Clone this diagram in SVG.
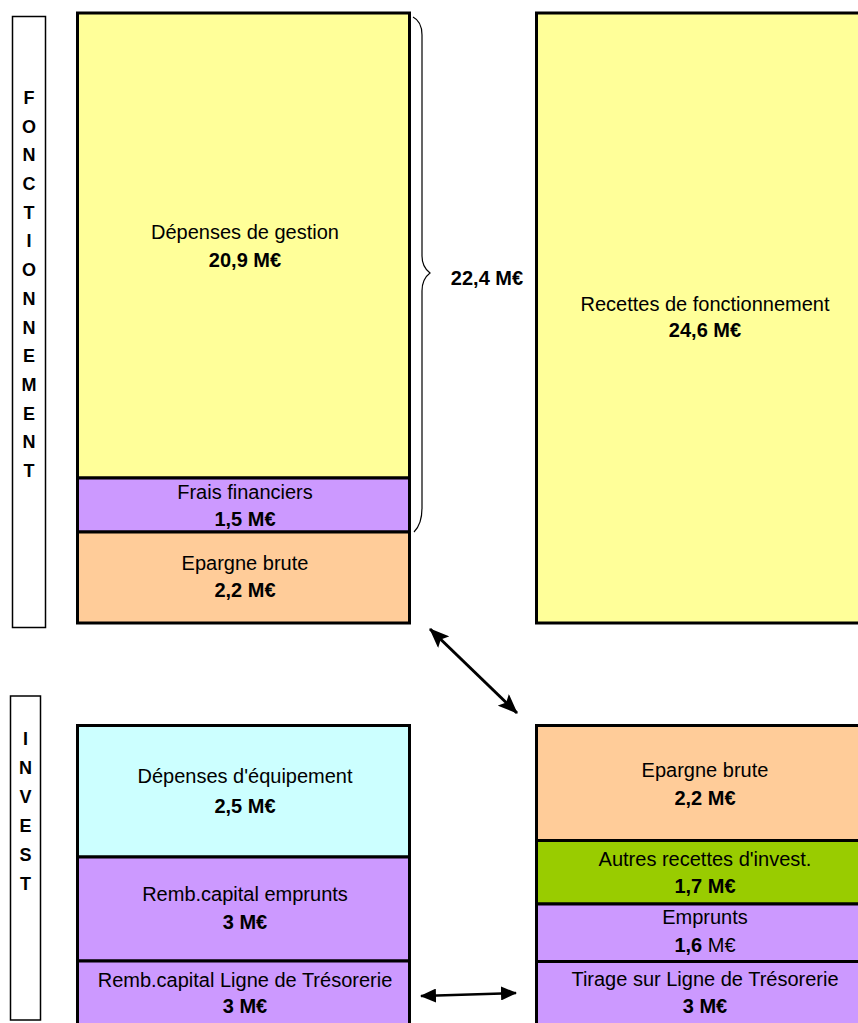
<svg xmlns="http://www.w3.org/2000/svg" width="858" height="1023" viewBox="0 0 858 1023">
<defs>
<style>
text{font-family:"Liberation Sans",Arial,sans-serif;fill:#000}
.t{font-size:20px;text-anchor:middle}
.b{font-size:20px;font-weight:bold;text-anchor:middle}
.v{font-size:18px;font-weight:bold;text-anchor:middle}
.blk{stroke:#000;stroke-width:3}
.lbl{fill:#fff;stroke:#000;stroke-width:1.5}
.yel{fill:#FFFF99}.pur{fill:#CC99FF}.ora{fill:#FFCC99}.cya{fill:#CCFFFF}.grn{fill:#99CC00}
.con{stroke:#000;fill:none}
</style>
<marker id="ah" viewBox="0 0 16 14" refX="15" refY="7" markerWidth="16" markerHeight="14" markerUnits="userSpaceOnUse" orient="auto-start-reverse">
<path d="M0,0 L16,7 L0,14 Z" fill="#000"/>
</marker>
<marker id="ahl" viewBox="0 0 20 16" refX="19" refY="8" markerWidth="20" markerHeight="16" markerUnits="userSpaceOnUse" orient="auto-start-reverse">
<path d="M0,0 L20,8 L0,16 L4,8 Z" fill="#000"/>
</marker>
</defs>
<rect width="858" height="1023" fill="#fff"/>

<g id="label-fonctionnement">
<rect class="lbl" x="12.5" y="16.5" width="33" height="611"/>
<text class="v" x="29" y="104">F</text>
<text class="v" x="29" y="133">O</text>
<text class="v" x="29" y="161">N</text>
<text class="v" x="29" y="190">C</text>
<text class="v" x="29" y="219">T</text>
<text class="v" x="29" y="247">I</text>
<text class="v" x="29" y="276">O</text>
<text class="v" x="29" y="305">N</text>
<text class="v" x="29" y="334">N</text>
<text class="v" x="29" y="362">E</text>
<text class="v" x="29" y="391">M</text>
<text class="v" x="29" y="420">E</text>
<text class="v" x="29" y="448">N</text>
<text class="v" x="29" y="477">T</text>
</g>

<g id="label-invest">
<rect class="lbl" x="10.5" y="696" width="30" height="324"/>
<text class="v" x="25.5" y="745">I</text>
<text class="v" x="25.5" y="774">N</text>
<text class="v" x="25.5" y="803">V</text>
<text class="v" x="25.5" y="832">E</text>
<text class="v" x="25.5" y="861">S</text>
<text class="v" x="25.5" y="890">T</text>
</g>

<g id="depenses-gestion">
<rect class="yel blk" x="77.5" y="13" width="332" height="465"/>
<text class="t" x="245" y="239">Dépenses de gestion</text>
<text class="b" x="245" y="267">20,9 M€</text>
</g>
<g id="frais-financiers">
<rect class="pur blk" x="77.5" y="478" width="332" height="54"/>
<text class="t" x="245" y="499">Frais financiers</text>
<text class="b" x="245" y="526">1,5 M€</text>
</g>
<g id="epargne-brute-f">
<rect class="ora blk" x="77.5" y="532" width="332" height="91"/>
<text class="t" x="245" y="570">Epargne brute</text>
<text class="b" x="245" y="597">2,2 M€</text>
</g>

<g id="recettes-fonctionnement">
<rect class="yel blk" x="536.5" y="13" width="340" height="610"/>
<text class="t" x="705" y="311">Recettes de fonctionnement</text>
<text class="b" x="705" y="337">24,6 M€</text>
</g>

<g id="total-brace">
<path class="con" stroke-width="1.2" d="M413,17 C419,20 422,25 422,35 L422,256 C422,266 426,270 430,273 C426,276 422,281 422,291 L422,508 C422,520 419,527 414,532"/>
<text class="b" x="487" y="285">22,4 M€</text>
</g>

<g id="depenses-equipement">
<rect class="cya blk" x="77.5" y="725.5" width="332" height="131.5"/>
<text class="t" x="245" y="783">Dépenses d'équipement</text>
<text class="b" x="245" y="813">2,5 M€</text>
</g>
<g id="remb-emprunts">
<rect class="pur blk" x="77.5" y="857" width="332" height="104"/>
<text class="t" x="245" y="901">Remb.capital emprunts</text>
<text class="b" x="245" y="929">3 M€</text>
</g>
<g id="remb-ligne">
<rect class="pur blk" x="77.5" y="961" width="332" height="70"/>
<text class="t" x="245" y="987">Remb.capital Ligne de Trésorerie</text>
<text class="b" x="245" y="1013">3 M€</text>
</g>

<g id="epargne-brute-i">
<rect class="ora blk" x="536.5" y="725.5" width="340" height="115"/>
<text class="t" x="705" y="777">Epargne brute</text>
<text class="b" x="705" y="805">2,2 M€</text>
</g>
<g id="autres-recettes">
<rect class="grn blk" x="536.5" y="840.5" width="340" height="63.5"/>
<text class="t" x="705" y="866">Autres recettes d'invest.</text>
<text class="b" x="705" y="893">1,7 M€</text>
</g>
<g id="emprunts">
<rect class="pur blk" x="536.5" y="904" width="340" height="57.5"/>
<text class="t" x="705" y="924">Emprunts</text>
<text class="t" x="705" y="952"><tspan font-weight="bold">1,6</tspan> M€</text>
</g>
<g id="tirage-ligne">
<rect class="pur blk" x="536.5" y="961.5" width="340" height="70"/>
<text class="t" x="705" y="986">Tirage sur Ligne de Trésorerie</text>
<text class="b" x="705" y="1013">3 M€</text>
</g>

<g id="connectors">
<line class="con" stroke-width="3" x1="430" y1="629" x2="517" y2="713" marker-start="url(#ahl)" marker-end="url(#ahl)"/>
<line class="con" stroke-width="2.5" x1="421" y1="996" x2="516" y2="993" marker-start="url(#ah)" marker-end="url(#ah)"/>
</g>
</svg>
